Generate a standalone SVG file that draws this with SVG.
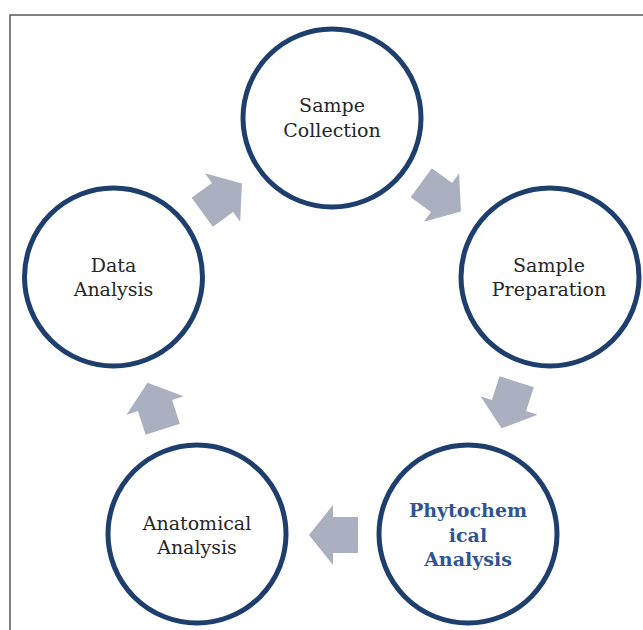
<svg xmlns="http://www.w3.org/2000/svg" width="643" height="630" viewBox="0 0 643 630">
  <defs>
    <style>
      .node circle { fill: #ffffff; stroke: #1e3f6d; stroke-width: 5; }
      .node text { font-family: "DejaVu Serif", "Liberation Serif", serif; font-size: 19px; fill: #262626; text-anchor: middle; }
      .node text.hl { font-weight: bold; fill: #2f5496; }
      .arrow { fill: #abb0c1; }
    </style>
    <!-- block arrow pointing along +x, head base at origin -->
    <polygon id="blockArrow" points="-25,-18 0,-18 0,-30 24,0 0,30 0,18 -25,18"/>
  </defs>

  <rect x="0" y="0" width="643" height="630" fill="#ffffff"/>
  <!-- outer frame -->
  <rect x="10" y="15" width="650" height="630" fill="none" stroke="#5a5a5a" stroke-width="1.5"/>

  <g id="connectors">
    <use href="#blockArrow" class="arrow" transform="translate(222.5,197.5) rotate(-36)"/>
    <use href="#blockArrow" class="arrow" transform="translate(441.5,197.5) rotate(36)"/>
    <use href="#blockArrow" class="arrow" transform="translate(509,405.5) rotate(108)"/>
    <use href="#blockArrow" class="arrow" transform="translate(333,535) rotate(180)"/>
    <use href="#blockArrow" class="arrow" transform="translate(155,405.5) rotate(252)"/>
  </g>

  <g id="sample-collection" class="node">
    <circle cx="332" cy="118" r="89"/>
    <text x="332" y="112">Sampe</text>
    <text x="332" y="137">Collection</text>
  </g>

  <g id="sample-preparation" class="node">
    <circle cx="550" cy="277" r="89"/>
    <text x="549" y="272">Sample</text>
    <text x="549" y="296">Preparation</text>
  </g>

  <g id="phytochemical-analysis" class="node">
    <circle cx="468" cy="534" r="89"/>
    <text class="hl" x="468" y="517">Phytochem</text>
    <text class="hl" x="468" y="542">ical</text>
    <text class="hl" x="468" y="566">Analysis</text>
  </g>

  <g id="anatomical-analysis" class="node">
    <circle cx="197" cy="534" r="89"/>
    <text x="197" y="530">Anatomical</text>
    <text x="197" y="554">Analysis</text>
  </g>

  <g id="data-analysis" class="node">
    <circle cx="113.5" cy="277" r="89"/>
    <text x="113.5" y="272">Data</text>
    <text x="113.5" y="296">Analysis</text>
  </g>
</svg>
